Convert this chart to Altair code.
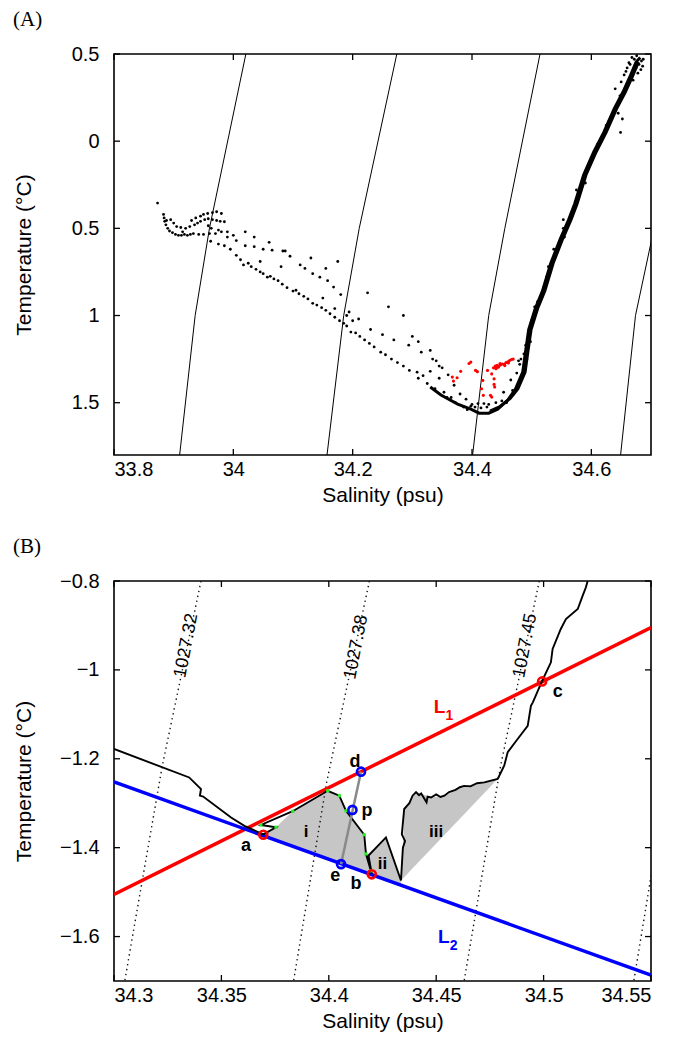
import altair as alt
import pandas as pd
import numpy as np

FONT = "Liberation Sans"
SERIF = "Liberation Serif"
LBL = 20
TTL = 21
W = 537
HA = 401
HB = 400
TK = 6

# ---------------- Panel A data ----------------
A_x_domain = [33.8, 34.7]
A_y_domain = [-1.8, 0.5]
A_x_ticks = [33.8, 34.0, 34.2, 34.4, 34.6]
A_y_ticks = [0.5, 0.0, -0.5, -1.0, -1.5]

A_iso_1 = [(34.021, 0.5), (33.960, -0.5), (33.936, -1.0), (33.910, -1.8)]
A_iso_2 = [(34.274, 0.5), (34.211, -0.5), (34.185, -1.0), (34.157, -1.8)]
A_iso_3 = [(34.514, 0.5), (34.455, -0.5), (34.428, -1.0), (34.401, -1.8)]
A_iso_4 = [(34.702, -0.55), (34.674, -1.0), (34.649, -1.8)]

A_left_cluster = [
    (33.873, -0.355), (33.883, -0.42), (33.884, -0.44), (33.885, -0.46), (33.887, -0.48),
    (33.890, -0.50), (33.893, -0.515), (33.898, -0.525), (33.903, -0.535), (33.908, -0.54),
    (33.913, -0.54), (33.918, -0.535), (33.923, -0.54), (33.928, -0.535), (33.933, -0.53),
    (33.905, -0.49), (33.912, -0.495), (33.920, -0.50), (33.927, -0.49), (33.935, -0.48),
    (33.940, -0.47), (33.945, -0.46), (33.952, -0.45), (33.958, -0.445), (33.965, -0.45),
    (33.972, -0.455), (33.978, -0.46), (33.985, -0.462), (33.930, -0.455), (33.937, -0.44),
    (33.945, -0.43), (33.950, -0.42), (33.957, -0.415), (33.965, -0.41), (33.972, -0.405),
    (33.980, -0.415), (33.942, -0.535), (33.950, -0.535), (33.960, -0.53), (33.970, -0.53),
    (33.980, -0.52), (33.990, -0.52), (34.000, -0.54), (33.895, -0.45), (33.900, -0.47),
    (33.963, -0.50), (33.975, -0.51), (33.958, -0.485), (33.888, -0.455), (33.915, -0.52),
]

A_descent_main = [
    (33.962, -0.574), (33.975, -0.59), (33.985, -0.60), (33.995, -0.62), (34.005, -0.655),
    (34.012, -0.68), (34.017, -0.71), (34.025, -0.70), (34.030, -0.72), (34.038, -0.735),
    (34.045, -0.75), (34.050, -0.76), (34.057, -0.78), (34.062, -0.775), (34.068, -0.79),
    (34.075, -0.80), (34.082, -0.82), (34.090, -0.84), (34.100, -0.86), (34.105, -0.855),
    (34.110, -0.875), (34.118, -0.89), (34.125, -0.905), (34.133, -0.93), (34.140, -0.94),
    (34.148, -0.955), (34.155, -0.97), (34.162, -0.99), (34.170, -1.01), (34.178, -1.03),
    (34.185, -1.045), (34.190, -1.06), (34.197, -1.095), (34.205, -1.10), (34.212, -1.12),
    (34.220, -1.14), (34.228, -1.16), (34.236, -1.18), (34.247, -1.21), (34.255, -1.225),
    (34.265, -1.25), (34.275, -1.27), (34.285, -1.29), (34.295, -1.315),
]

A_descent_upper = [
    (33.990, -0.55), (34.005, -0.57), (34.020, -0.60), (34.035, -0.605), (34.050, -0.62),
    (34.065, -0.625), (34.083, -0.63), (34.095, -0.66), (34.112, -0.71), (34.120, -0.73),
    (34.133, -0.76), (34.145, -0.78), (34.158, -0.80), (34.168, -0.837), (34.180, -0.88),
    (34.194, -0.98), (34.210, -1.02), (34.230, -1.08), (34.250, -1.11), (34.269, -1.14),
    (34.294, -1.17), (34.315, -1.21), (34.334, -1.25), (34.345, -1.29), (34.360, -1.34),
]

A_scatter = [
    (34.020, -0.52), (34.035, -0.55), (34.060, -0.58), (34.087, -0.63), (34.130, -0.67),
    (34.155, -0.73), (34.175, -0.69), (34.225, -0.87), (34.260, -0.95), (34.285, -1.00),
    (34.300, -1.12), (34.310, -1.15), (34.330, -1.20), (34.340, -1.26), (34.350, -1.30),
    (34.330, -1.32), (34.345, -1.36), (34.370, -1.40), (34.380, -1.45), (34.390, -1.48),
    (34.200, -1.03), (34.190, -1.00), (34.170, -0.96), (34.150, -0.90), (34.080, -0.72),
    (34.045, -0.69), (34.353, -1.44), (34.365, -1.47), (34.318, -1.345), (34.308, -1.325),
    (34.400, -1.51), (34.410, -1.505), (34.420, -1.505), (34.428, -1.51), (34.425, -1.525),
    (34.415, -1.53), (34.405, -1.525), (34.398, -1.52), (34.310, -1.36), (34.325, -1.39),
    (34.338, -1.42), (34.358, -1.47), (34.372, -1.50), (34.386, -1.525), (34.392, -1.54),
]

A_band_core = [
    (34.330, -1.410), (34.348, -1.456), (34.376, -1.508), (34.398, -1.537),
    (34.412, -1.560), (34.428, -1.560), (34.443, -1.537), (34.460, -1.485), (34.473, -1.420),
    (34.485, -1.325), (34.490, -1.200), (34.495, -1.080), (34.506, -0.960), (34.518, -0.860),
    (34.532, -0.700), (34.548, -0.560), (34.562, -0.450), (34.572, -0.360), (34.587, -0.194),
    (34.604, -0.062), (34.621, 0.052), (34.638, 0.184), (34.653, 0.282), (34.666, 0.380),
    (34.675, 0.454), (34.682, 0.480),
]

A_band_edge = [
    (34.430, -1.548), (34.447, -1.522), (34.464, -1.475), (34.477, -1.420), (34.489, -1.325),
    (34.494, -1.200), (34.499, -1.080), (34.510, -0.960), (34.522, -0.860), (34.536, -0.700),
    (34.552, -0.560), (34.566, -0.450), (34.576, -0.360), (34.591, -0.194), (34.608, -0.062),
    (34.625, 0.052), (34.642, 0.184), (34.657, 0.282), (34.670, 0.380), (34.679, 0.454),
]

A_band_scatter = [
    (34.440, -1.50), (34.453, -1.44), (34.465, -1.37), (34.470, -1.45), (34.478, -1.40),
    (34.475, -1.33), (34.480, -1.28), (34.478, -1.26), (34.487, -1.22), (34.490, -1.17),
    (34.482, -1.25), (34.495, -1.12), (34.500, -1.03), (34.505, -0.95), (34.510, -0.92),
    (34.520, -0.84), (34.525, -0.78), (34.528, -0.72), (34.537, -0.62), (34.545, -0.60),
    (34.553, -0.45), (34.553, -0.50), (34.555, -0.55), (34.560, -0.47), (34.565, -0.43),
    (34.578, -0.33), (34.575, -0.28), (34.590, -0.24), (34.595, -0.14), (34.610, -0.02),
    (34.615, 0.00), (34.630, 0.12), (34.625, 0.09), (34.645, 0.22), (34.648, 0.26),
    (34.660, 0.33), (34.670, 0.40), (34.675, 0.42), (34.680, 0.44), (34.684, 0.46),
    (34.672, 0.47), (34.665, 0.44), (34.660, 0.42), (34.655, 0.38), (34.649, 0.05),
    (34.652, 0.127), (34.645, 0.16), (34.640, 0.30), (34.670, 0.35), (34.683, 0.41),
    (34.686, 0.43), (34.678, 0.39), (34.663, 0.45), (34.668, 0.48), (34.676, 0.49),
    (34.687, 0.47), (34.658, 0.40), (34.650, 0.34), (34.450, -1.49), (34.435, -1.545),
    (34.458, -1.50), (34.468, -1.43), (34.488, -1.30), (34.492, -1.25), (34.498, -1.15),
]

A_red = [
    (34.398, -1.267), (34.395, -1.275), (34.367, -1.353), (34.375, -1.357), (34.369, -1.376),
    (34.381, -1.320), (34.406, -1.315), (34.409, -1.322), (34.418, -1.372), (34.416, -1.420),
    (34.419, -1.458), (34.437, -1.363), (34.437, -1.395), (34.438, -1.410), (34.431, -1.458),
    (34.433, -1.468), (34.426, -1.315), (34.436, -1.300), (34.439, -1.290), (34.442, -1.285),
    (34.445, -1.290), (34.448, -1.283), (34.451, -1.278), (34.454, -1.280), (34.457, -1.270),
    (34.460, -1.265), (34.463, -1.258), (34.466, -1.252), (34.469, -1.250), (34.441, -1.300),
    (34.447, -1.275), (34.455, -1.287), (34.440, -1.305), (34.444, -1.296), (34.461, -1.272),
    (34.433, -1.335),
]

# ---------------- Panel B data ----------------
B_x_domain = [34.3, 34.55]
B_y_domain = [-1.7, -0.8]
B_x_ticks = [34.3, 34.35, 34.4, 34.45, 34.5, 34.55]
B_y_ticks = [-0.8, -1.0, -1.2, -1.4, -1.6]

B_iso_1027_32 = [(34.3405, -0.8), (34.3225, -1.2155), (34.305, -1.7)]
B_iso_1027_38 = [(34.4189, -0.8), (34.3990, -1.253), (34.3836, -1.7)]
B_iso_1027_45 = [(34.4980, -0.8), (34.4800, -1.2155), (34.463, -1.7)]
B_iso_right = [(34.5770, -0.8), (34.5590, -1.2), (34.542, -1.7)]
B_iso_labels = ["1027.32", "1027.38", "1027.45"]
B_iso_label_pos = [(34.3337, -0.9455), (34.4128, -0.949), (34.4915, -0.9455)]

B_L1 = [(34.30, -1.505), (34.55, -0.905)]
B_L2 = [(34.30, -1.252), (34.55, -1.687)]

B_profile = [
    (34.3000, -1.178), (34.3350, -1.242), (34.3405, -1.268), (34.3400, -1.283),
    (34.3415, -1.285), (34.3545, -1.332), (34.3607, -1.351), (34.3695, -1.370),
    (34.3754, -1.354), (34.3684, -1.349), (34.3832, -1.318), (34.3995, -1.272),
    (34.4049, -1.283), (34.4080, -1.317), (34.4165, -1.371), (34.4173, -1.414),
    (34.4200, -1.459), (34.4185, -1.418), (34.4266, -1.377), (34.4336, -1.474),
    (34.4340, -1.440), (34.4345, -1.400), (34.4355, -1.385), (34.4340, -1.370),
    (34.4351, -1.313), (34.4375, -1.300), (34.4390, -1.283), (34.4406, -1.275),
    (34.4420, -1.282), (34.4430, -1.278), (34.4445, -1.290), (34.4455, -1.298),
    (34.4460, -1.285), (34.4476, -1.287), (34.4500, -1.280), (34.4520, -1.286),
    (34.4538, -1.283), (34.4560, -1.275), (34.4590, -1.270), (34.4610, -1.264),
    (34.4630, -1.261), (34.4660, -1.262), (34.4690, -1.255), (34.4724, -1.253),
    (34.4786, -1.2455), (34.4800, -1.232), (34.4817, -1.215), (34.4833, -1.185),
    (34.4880, -1.155), (34.4926, -1.126), (34.4941, -1.081), (34.4950, -1.073),
    (34.4973, -1.047), (34.4993, -1.025), (34.5034, -0.983), (34.5042, -0.953),
    (34.5080, -0.908), (34.5104, -0.8855), (34.5159, -0.863), (34.5182, -0.833),
    (34.5197, -0.814), (34.5205, -0.800),
]

B_green = [
    (34.3754, -1.354), (34.3684, -1.349), (34.3832, -1.318), (34.3995, -1.272),
    (34.4049, -1.283), (34.4080, -1.317), (34.4165, -1.371), (34.4173, -1.414),
    (34.4195, -1.452),
]

B_region_i = [
    (34.3695, -1.370), (34.3754, -1.354), (34.3832, -1.318), (34.3995, -1.272),
    (34.4049, -1.283), (34.4080, -1.317), (34.4165, -1.371), (34.4173, -1.414),
    (34.4200, -1.459),
]
B_region_ii = [(34.4180, -1.416), (34.4266, -1.377), (34.4336, -1.474)]
B_region_iii = [
    (34.4336, -1.474), (34.4345, -1.400), (34.4351, -1.313), (34.4375, -1.300),
    (34.4390, -1.283), (34.4406, -1.275), (34.4430, -1.278), (34.4476, -1.287),
    (34.4538, -1.283), (34.4630, -1.261), (34.4724, -1.253), (34.4786, -1.2455),
]

B_de_line = [(34.4150, -1.229), (34.4057, -1.437)]

B_circle_names = ["a", "b", "c", "d", "p", "e"]
B_circle_pts = [(34.3695, -1.371), (34.4200, -1.460), (34.4993, -1.026),
                (34.4150, -1.229), (34.4110, -1.315), (34.4057, -1.437)]
B_circle_cols = ["red", "red", "red", "blue", "blue", "blue"]
B_letter_pos = [(34.3615, -1.397), (34.4127, -1.482), (34.5066, -1.049),
                (34.4122, -1.208), (34.4178, -1.317), (34.4030, -1.463)]

B_region_names = ["i", "ii", "iii"]
B_region_label_pos = [(34.3894, -1.365), (34.4250, -1.437), (34.4500, -1.365)]

B_L_names = ["1", "2"]
B_L_label_pos = [(34.4515, -1.084), (34.4535, -1.600)]
B_L_cols = ["red", "blue"]


def pts_df(pts, **extra):
    d = pd.DataFrame(pts, columns=["S", "T"])
    d["o"] = np.arange(len(d))
    for k, v in extra.items():
        d[k] = v
    return d


def line_interp(line, s):
    (s0, t0), (s1, t1) = line
    return t0 + (t1 - t0) * (np.asarray(s) - s0) / (s1 - s0)


def make_axes(xticks, yticks, xfmt, yfmt, H, ylabelexpr=None):
    ax = alt.Axis(values=xticks, format=xfmt, title="Salinity (psu)", ticks=False,
                  domain=False, grid=False, labelFont=FONT, labelFontSize=LBL, labelPadding=4,
                  labelColor="black", titleFont=FONT, titleFontSize=TTL, titleFontWeight="normal",
                  titleColor="black", titleY=40, titleBaseline="middle")
    kw = dict(values=yticks, format=yfmt, title="Temperature (°C)", ticks=False,
              domain=False, grid=False, labelFont=FONT, labelFontSize=LBL, labelPadding=15,
              labelColor="black", titleFont=FONT, titleFontSize=TTL, titleFontWeight="normal",
              titleColor="black", titleX=-90, titleY=H / 2, titleAngle=270,
              titleBaseline="middle", titleAlign="center")
    if ylabelexpr:
        kw["labelExpr"] = ylabelexpr
    return ax, alt.Axis(**kw)


def tick_layers(X, Y, xticks, yticks, H):
    dx = pd.DataFrame({"S": xticks})
    dy = pd.DataFrame({"T": yticks})
    st = dict(color="black", strokeWidth=1.3)
    bot = alt.Chart(dx).mark_rule(**st).encode(x=X(), y=alt.value(H), y2=alt.value(H - TK))
    top = alt.Chart(dx).mark_rule(**st).encode(x=X(), y=alt.value(0), y2=alt.value(TK))
    lef = alt.Chart(dy).mark_rule(**st).encode(y=Y(), x=alt.value(0), x2=alt.value(TK))
    rig = alt.Chart(dy).mark_rule(**st).encode(y=Y(), x=alt.value(W), x2=alt.value(W - TK))
    return [bot, top, lef, rig]


def panel_label(txt):
    return alt.Chart(pd.DataFrame({"t": [txt]})).mark_text(
        font=SERIF, fontSize=21, align="left", baseline="middle", color="black"
    ).encode(x=alt.value(-101), y=alt.value(-34), text="t:N")


# ---------------- Panel A chart ----------------
xA = alt.Scale(domain=A_x_domain, nice=False, zero=False)
yA = alt.Scale(domain=A_y_domain, nice=False, zero=False)
axA_x, axA_y = make_axes(A_x_ticks, A_y_ticks, ".1~f", ".1~f", HA,
                         ylabelexpr="format(abs(datum.value), '.1~f')")


def XA():
    return alt.X("S:Q", scale=xA, axis=axA_x)


def YA():
    return alt.Y("T:Q", scale=yA, axis=axA_y)


isoA = pd.concat([pts_df(p, id=i) for i, p in enumerate([A_iso_1, A_iso_2, A_iso_3, A_iso_4])])
blackA = pts_df(A_left_cluster + A_descent_main + A_descent_upper + A_scatter + A_band_scatter)
bandA = pd.concat([pts_df(A_band_core, id=0), pts_df(A_band_edge, id=1)])

a_iso = alt.Chart(isoA).mark_line(color="black", strokeWidth=1, clip=True).encode(
    x=XA(), y=YA(), detail="id:N", order="o:Q")
a_band = alt.Chart(bandA).mark_line(color="black", strokeWidth=3, clip=True).encode(
    x=XA(), y=YA(), detail="id:N", order="o:Q")
a_black = alt.Chart(blackA).mark_circle(size=8, color="black", opacity=1).encode(x=XA(), y=YA())
a_red = alt.Chart(pts_df(A_red)).mark_circle(size=10, color="#ff0000", opacity=1).encode(
    x=XA(), y=YA())

panelA = alt.layer(a_iso, a_band, a_black, a_red,
                   *tick_layers(XA, YA, A_x_ticks, A_y_ticks, HA),
                   panel_label("(A)")).properties(width=W, height=HA)

# ---------------- Panel B chart ----------------
xB = alt.Scale(domain=B_x_domain, nice=False, zero=False)
yB = alt.Scale(domain=B_y_domain, nice=False, zero=False)
axB_x, axB_y = make_axes(B_x_ticks, B_y_ticks, ".2~f", ".1~f", HB)


def XB():
    return alt.X("S:Q", scale=xB, axis=axB_x)


def YB():
    return alt.Y("T:Q", scale=yB, axis=axB_y)


reg_i = pts_df(B_region_i)
reg_i["T2"] = line_interp(B_L2, reg_i["S"])
reg_ii = pts_df(B_region_ii)
reg_ii["T2"] = line_interp(B_L2, reg_ii["S"])
reg_iii = pts_df(B_region_iii)
reg_iii["T2"] = line_interp([B_region_iii[0], B_region_iii[-1]], reg_iii["S"])

reg_layers = [
    alt.Chart(r).mark_area(color="#c6c6c6", opacity=1).encode(x=XB(), y=YB(), y2="T2:Q")
    for r in (reg_i, reg_ii, reg_iii)
]

isoB = pd.concat([pts_df(p, id=i) for i, p in enumerate(
    [B_iso_1027_32, B_iso_1027_38, B_iso_1027_45, B_iso_right])])
b_iso = alt.Chart(isoB).mark_line(color="#111111", strokeWidth=1.4, strokeDash=[1.4, 3.6],
                                  clip=True).encode(x=XB(), y=YB(), detail="id:N", order="o:Q")
isolab = pd.DataFrame(B_iso_label_pos, columns=["S", "T"])
isolab["t"] = B_iso_labels
b_isolab = alt.Chart(isolab).mark_text(font=FONT, fontSize=18, angle=281, color="black",
                                       align="center", baseline="middle").encode(
    x=XB(), y=YB(), text="t:N")

b_l1 = alt.Chart(pts_df(B_L1)).mark_line(color="#ff0000", strokeWidth=3.5, clip=True).encode(
    x=XB(), y=YB(), order="o:Q")
b_l2 = alt.Chart(pts_df(B_L2)).mark_line(color="#0000ff", strokeWidth=3.5, clip=True).encode(
    x=XB(), y=YB(), order="o:Q")
b_prof = alt.Chart(pts_df(B_profile)).mark_line(color="black", strokeWidth=1.9, clip=True).encode(
    x=XB(), y=YB(), order="o:Q")
b_de = alt.Chart(pts_df(B_de_line)).mark_line(color="#8a8a8a", strokeWidth=2.5).encode(
    x=XB(), y=YB(), order="o:Q")
b_green = alt.Chart(pts_df(B_green)).mark_square(size=10, color="#22ee22", opacity=1).encode(
    x=XB(), y=YB())

circ = pd.DataFrame(B_circle_pts, columns=["S", "T"])
circ["col"] = B_circle_cols
b_circ = alt.Chart(circ).mark_point(shape="circle", filled=False, size=65, strokeWidth=2.6,
                                    opacity=1).encode(
    x=XB(), y=YB(), stroke=alt.Stroke("col:N", scale=None))

letters = pd.DataFrame(B_letter_pos, columns=["S", "T"])
letters["t"] = B_circle_names
b_letters = alt.Chart(letters).mark_text(font=FONT, fontSize=18, fontWeight="bold",
                                         color="black", baseline="middle").encode(
    x=XB(), y=YB(), text="t:N")

rlab = pd.DataFrame(B_region_label_pos, columns=["S", "T"])
rlab["t"] = B_region_names
b_rlab = alt.Chart(rlab).mark_text(font=FONT, fontSize=17, fontWeight="bold",
                                   color="black", baseline="middle").encode(
    x=XB(), y=YB(), text="t:N")

llab = pd.DataFrame(B_L_label_pos, columns=["S", "T"])
llab["n"] = B_L_names
llab["col"] = B_L_cols
llab["L"] = "L"
b_L = alt.Chart(llab).mark_text(font=FONT, fontSize=19, fontWeight="bold",
                                baseline="middle").encode(
    x=XB(), y=YB(), text="L:N", color=alt.Color("col:N", scale=None))
b_Lsub = alt.Chart(llab).mark_text(font=FONT, fontSize=14, fontWeight="bold",
                                   baseline="middle", dx=10, dy=9).encode(
    x=XB(), y=YB(), text="n:N", color=alt.Color("col:N", scale=None))

panelB = alt.layer(*reg_layers, b_iso, b_isolab, b_l1, b_l2, b_prof, b_de, b_green, b_circ,
                   b_letters, b_rlab, b_L, b_Lsub,
                   *tick_layers(XB, YB, B_x_ticks, B_y_ticks, HB),
                   panel_label("(B)")).properties(width=W, height=HB)

chart = alt.vconcat(panelA, panelB, spacing=29).configure_view(
    stroke="black", strokeWidth=1.6
).properties(padding={"left": 4, "top": 0, "right": 5, "bottom": 5}, background="white")

chart.save("out.html", embed_options={"renderer": "svg", "actions": False})
